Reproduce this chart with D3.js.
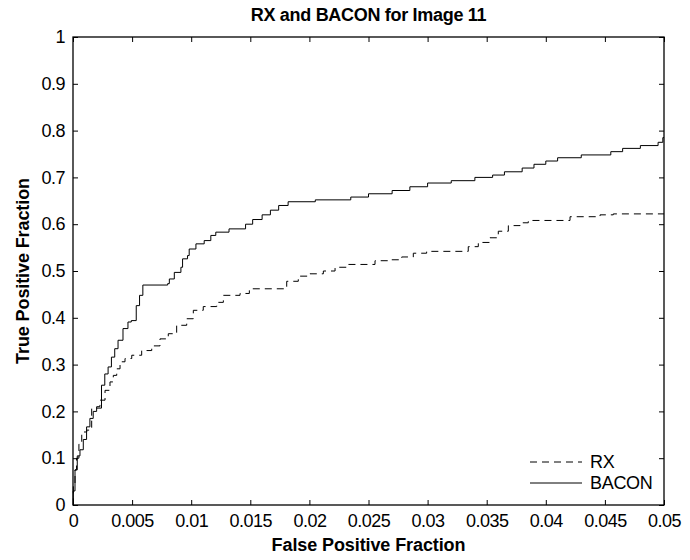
<!DOCTYPE html>
<html>
<head>
<meta charset="utf-8">
<script src="https://cdn.jsdelivr.net/npm/d3@7"></script>
<style>
  html, body { margin: 0; padding: 0; background: #fff; }
  svg text { font-family: "Liberation Sans", Arial, Helvetica, sans-serif; fill: #000; }
</style>
</head>
<body>
<svg id="chart" width="690" height="560"></svg>
<script>
// ROC curves: false positive fraction vs true positive fraction
const rxFPF = [0, 0.00003, 0.00017, 0.0003, 0.0005, 0.00074, 0.00116, 0.00158, 0.002, 0.00228,
  0.00271, 0.00313, 0.00341, 0.0037, 0.00398, 0.0044, 0.00497, 0.00581, 0.00666, 0.00736,
  0.00806, 0.00877, 0.00962, 0.01018, 0.01102, 0.01216, 0.01272, 0.01413, 0.01492, 0.01808,
  0.01906, 0.02005, 0.02118, 0.02217, 0.02329, 0.02555, 0.02667, 0.02781, 0.02879, 0.02992,
  0.03344, 0.03429, 0.03528, 0.03598, 0.03683, 0.03782, 0.03852, 0.04205, 0.04459, 0.04571, 0.05];
const rxTPF = [0, 0.047, 0.075, 0.10, 0.13, 0.156, 0.16, 0.206, 0.21, 0.224,
  0.245, 0.263, 0.277, 0.291, 0.306, 0.313, 0.32, 0.33, 0.34, 0.355,
  0.366, 0.384, 0.398, 0.416, 0.424, 0.433, 0.448, 0.452, 0.462, 0.478,
  0.489, 0.494, 0.50, 0.508, 0.514, 0.522, 0.524, 0.53, 0.538, 0.542,
  0.552, 0.561, 0.571, 0.585, 0.597, 0.603, 0.608, 0.616, 0.62, 0.622, 0.622];

const baconFPF = [0, 0.00002, 0.00017, 0.00036, 0.00059, 0.00087, 0.00115, 0.00143, 0.00171, 0.002,
  0.00241, 0.00269, 0.00297, 0.00325, 0.00353, 0.00381, 0.00423, 0.00465, 0.00493, 0.00535,
  0.00563, 0.00591, 0.00801, 0.00815, 0.00857, 0.00913, 0.00927, 0.00969, 0.00983, 0.0104,
  0.0111, 0.01166, 0.01208, 0.0132, 0.0146, 0.0152, 0.016, 0.0167, 0.0174, 0.0182,
  0.0205, 0.0235, 0.025, 0.027, 0.0285, 0.03, 0.032, 0.034, 0.0355, 0.0365,
  0.038, 0.039, 0.04, 0.041, 0.043, 0.0455, 0.0465, 0.048, 0.0495, 0.0499, 0.05];
const baconTPF = [0, 0.03, 0.075, 0.105, 0.118, 0.14, 0.167, 0.185, 0.2, 0.207,
  0.256, 0.28, 0.295, 0.316, 0.334, 0.352, 0.377, 0.391, 0.394, 0.426,
  0.448, 0.47, 0.473, 0.483, 0.497, 0.508, 0.526, 0.533, 0.547, 0.558,
  0.565, 0.576, 0.583, 0.59, 0.60, 0.61, 0.62, 0.63, 0.64, 0.648,
  0.652, 0.658, 0.665, 0.672, 0.68, 0.688, 0.693, 0.70, 0.705, 0.712,
  0.72, 0.728, 0.735, 0.742, 0.748, 0.755, 0.762, 0.768, 0.775, 0.785, 0.785];

const xTicks = [0, 0.005, 0.01, 0.015, 0.02, 0.025, 0.03, 0.035, 0.04, 0.045, 0.05];
const yTicks = [0, 0.1, 0.2, 0.3, 0.4, 0.5, 0.6, 0.7, 0.8, 0.9, 1];
const seriesNames = ["RX", "BACON"];

const plotLeft = 73, plotRight = 664, plotTop = 37, plotBottom = 505;
const svg = d3.select("#chart");

const x = d3.scaleLinear().domain([0, 0.05]).range([plotLeft, plotRight]);
const y = d3.scaleLinear().domain([0, 1]).range([plotBottom, plotTop]);

const fmt = d => (d === 0 ? "0" : d === 1 ? "1" : String(+d.toFixed(3)));

// axes with inward ticks on all four sides
function styleAxis(g) {
  g.select(".domain").remove();
  g.selectAll(".tick line").attr("stroke", "#000").attr("stroke-width", 1);
}
const tickLen = 5;
const tickFont = g => g.selectAll("text").attr("font-size", 18).attr("letter-spacing", "-0.5");
svg.append("g").attr("transform", `translate(0,${plotBottom})`)
  .call(d3.axisBottom(x).tickValues(xTicks).tickSize(-tickLen).tickPadding(9).tickFormat(fmt))
  .call(styleAxis).call(tickFont);
svg.append("g").attr("transform", `translate(0,${plotTop})`)
  .call(d3.axisTop(x).tickValues(xTicks).tickSize(-tickLen).tickFormat(""))
  .call(styleAxis);
svg.append("g").attr("transform", `translate(${plotLeft},0)`)
  .call(d3.axisLeft(y).tickValues(yTicks).tickSize(-tickLen).tickPadding(8).tickFormat(fmt))
  .call(styleAxis).call(tickFont);
svg.append("g").attr("transform", `translate(${plotRight},0)`)
  .call(d3.axisRight(y).tickValues(yTicks).tickSize(-tickLen).tickFormat(""))
  .call(styleAxis);

// plot box
svg.append("rect")
  .attr("x", plotLeft).attr("y", plotTop)
  .attr("width", plotRight - plotLeft).attr("height", plotBottom - plotTop)
  .attr("fill", "none").attr("stroke", "#000").attr("stroke-width", 1.3);

// curves
const line = d3.line().curve(d3.curveStepAfter).x(d => x(d[0])).y(d => y(d[1]));
const rx = d3.zip(rxFPF, rxTPF);
const bacon = d3.zip(baconFPF, baconTPF);

svg.append("path").datum(rx).attr("d", line)
  .attr("fill", "none").attr("stroke", "#000").attr("stroke-width", 1)
  .attr("stroke-dasharray", "7,5");
svg.append("path").datum(bacon).attr("d", line)
  .attr("fill", "none").attr("stroke", "#000").attr("stroke-width", 1);

// legend
const legend = svg.append("g");
seriesNames.forEach((name, i) => {
  const ly = 462 + i * 21;
  legend.append("line").attr("x1", 530).attr("x2", 582).attr("y1", ly).attr("y2", ly)
    .attr("stroke", "#000").attr("stroke-width", 1)
    .attr("stroke-dasharray", i === 0 ? "7,5" : null);
  legend.append("text").attr("x", 590).attr("y", ly).attr("dy", "0.35em")
    .attr("font-size", 18).attr("letter-spacing", "-0.3").text(name);
});

// titles
svg.append("text").attr("x", (plotLeft + plotRight) / 2).attr("y", 21)
  .attr("text-anchor", "middle").attr("font-size", 18).attr("font-weight", "bold")
  .attr("letter-spacing", "-0.3").text("RX and BACON for Image 11");
svg.append("text").attr("x", (plotLeft + plotRight) / 2).attr("y", 551)
  .attr("text-anchor", "middle").attr("font-size", 18).attr("font-weight", "bold")
  .attr("letter-spacing", "-0.1").text("False Positive Fraction");
svg.append("text")
  .attr("transform", `translate(29,${(plotTop + plotBottom) / 2}) rotate(-90)`)
  .attr("text-anchor", "middle").attr("font-size", 18).attr("font-weight", "bold")
  .attr("letter-spacing", "-0.1").text("True Positive Fraction");
</script>
</body>
</html>
